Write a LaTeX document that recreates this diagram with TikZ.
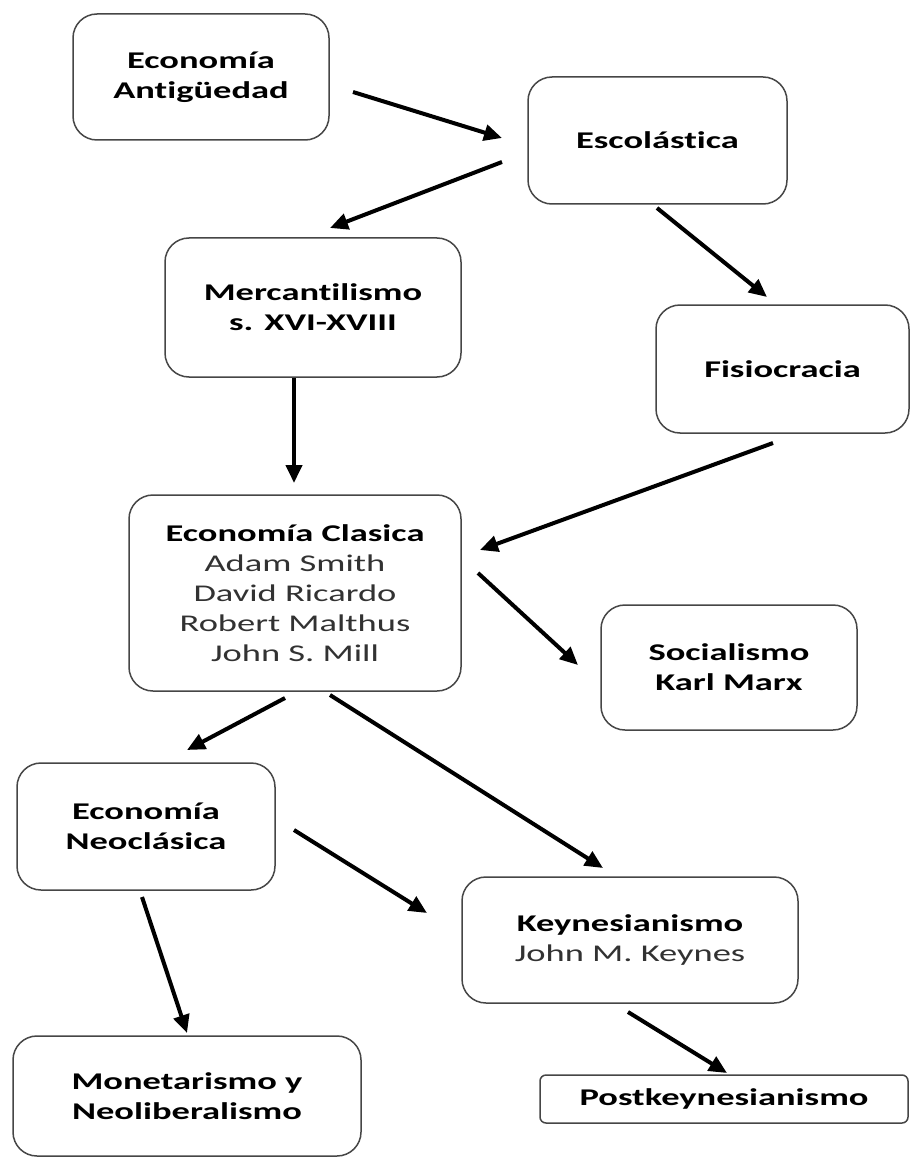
\documentclass[tikz,border=0pt]{standalone}
\usepackage{fontspec}
\setmainfont{Carlito}[FakeStretch=1.52,Ligatures={NoCommon}]
\usetikzlibrary{arrows.meta}
\definecolor{boxline}{RGB}{70,70,70}
\definecolor{subtext}{RGB}{50,50,50}
\tikzset{
  box/.style={draw=boxline, line width=1.5pt, rounded corners=24pt, fill=white,
    align=center, inner sep=0pt, font=\fontsize{24}{30}\selectfont\bfseries},
  flatbox/.style={box, rounded corners=6pt},
  conn/.style={line width=4pt, -{Triangle[length=18pt,width=16pt]}}
}
\newcommand{\subline}[1]{{\mdseries\color{subtext}#1}}
\begin{document}
\begin{tikzpicture}[x=1pt,y=-1pt]
\useasboundingbox (0,0) rectangle (910,1158);
\fill[white] (0,0) rectangle (910,1158);

\node[box, minimum width=256pt, minimum height=126pt] (ant) at (201,77) {Economía\\Antigüedad};
\node[box, minimum width=259pt, minimum height=127pt] (esc) at (657.5,140.5) {Escolástica};
\node[box, minimum width=296pt, minimum height=139pt] (mer) at (313,307.5) {Mercantilismo\\s. XVI-XVIII};
\node[box, minimum width=253pt, minimum height=128pt] (fis) at (782.5,369) {Fisiocracia};
\node[box, minimum width=332pt, minimum height=196pt] (cla) at (295,593) {Economía Clasica\\\subline{Adam Smith}\\\subline{David Ricardo}\\\subline{Robert Malthus}\\\subline{John S. Mill}};
\node[box, minimum width=256pt, minimum height=125pt] (soc) at (729,667.5) {Socialismo\\Karl Marx};
\node[box, minimum width=258pt, minimum height=127pt] (neo) at (146,826.5) {Economía\\Neoclásica};
\node[box, minimum width=336pt, minimum height=126pt] (key) at (630,940) {Keynesianismo\\\subline{John M. Keynes}};
\node[box, minimum width=348pt, minimum height=120pt] (mon) at (187,1096) {Monetarismo y\\Neoliberalismo};
\node[flatbox, minimum width=368pt, minimum height=48pt] (post) at (724,1099) {Postkeynesianismo};

\coordinate (a1s) at (353,92);  \coordinate (a1e) at (502,138);
\coordinate (a2s) at (502,162); \coordinate (a2e) at (330,228);
\coordinate (a3s) at (657,208); \coordinate (a3e) at (767,297);
\coordinate (a4s) at (294,378); \coordinate (a4e) at (294,483);
\coordinate (a5s) at (773,443); \coordinate (a5e) at (480,550);
\coordinate (a6s) at (478,573); \coordinate (a6e) at (578,665);
\coordinate (a7s) at (285,698); \coordinate (a7e) at (187,750);
\coordinate (a8s) at (330,695); \coordinate (a8e) at (603,868);
\coordinate (a9s) at (294,830); \coordinate (a9e) at (427,913);
\coordinate (a10s) at (142,897); \coordinate (a10e) at (187,1033);
\coordinate (a11s) at (628,1012); \coordinate (a11e) at (727,1073);

\draw[conn] (a1s) -- (a1e);
\draw[conn] (a2s) -- (a2e);
\draw[conn] (a3s) -- (a3e);
\draw[conn] (a4s) -- (a4e);
\draw[conn] (a5s) -- (a5e);
\draw[conn] (a6s) -- (a6e);
\draw[conn] (a7s) -- (a7e);
\draw[conn] (a8s) -- (a8e);
\draw[conn] (a9s) -- (a9e);
\draw[conn] (a10s) -- (a10e);
\draw[conn] (a11s) -- (a11e);
\end{tikzpicture}
\end{document}
